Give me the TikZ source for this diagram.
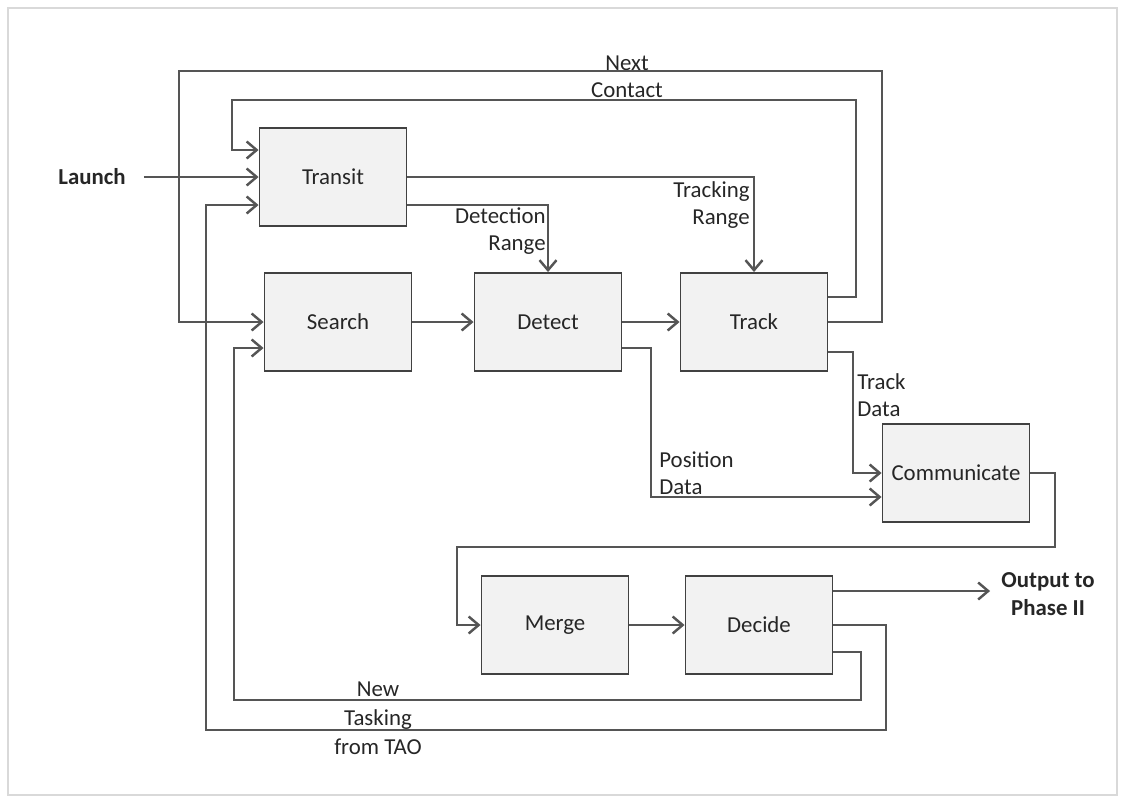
\documentclass[tikz,border=0pt]{standalone}
\usepackage{fontspec}
\setmainfont{Carlito}
\usetikzlibrary{arrows.meta}
\definecolor{boxfill}{RGB}{242,242,242}
\definecolor{boxline}{RGB}{65,65,65}
\definecolor{wireclr}{RGB}{85,85,85}
\tikzset{
  blk/.style={draw=boxline, fill=boxfill, line width=1.1pt, minimum width=2.94cm,
    minimum height=1.96cm, font=\fontsize{13}{15.5}\selectfont, text=black!85},
  lbl/.style={inner sep=0pt, font=\fontsize{13}{15.5}\selectfont, text=black!85},
  wire/.style={draw=wireclr, line width=0.95pt},
  arr/.style={wire, -{Straight Barb[length=2mm,width=3.4mm,line width=1.4pt]}}
}
\begin{document}
\begin{tikzpicture}[x=0.02cm,y=-0.02cm]
    \useasboundingbox (0,0) rectangle (1124,802);
    % 外框
    \draw[black!15, line width=0.8pt] (8,8) rectangle (1117,795);
    % 方框
    \node[blk] (transit) at (333,177) {Transit};
    \node[blk] (search) at (338,322) {Search};
    \node[blk] (detect) at (548,322) {Detect};
    \node[blk] (track) at (754,322) {Track};
    \node[blk] (comm) at (956,473) {Communicate};
    \node[blk] (merge) at (555,625) {Merge};
    \node[blk] (decide) at (759,625) {Decide};
    % 文字
    \node[lbl, font=\fontsize{13}{15.5}\selectfont\bfseries] (launch) at (92,177) {Launch};
    \node[lbl, font=\fontsize{13}{15.5}\selectfont\bfseries, align=center] (out) at (1048,594) {Output to\\Phase II};
    \node[lbl, align=center] (nextc) at (627,77) {Next\\Contact};
    \node[lbl, align=right, anchor=east] (trkrng) at (750,205) {Tracking\\Range};
    \node[lbl, align=right, anchor=east] (detrng) at (546,231) {Detection\\Range};
    \node[lbl, align=left, anchor=west] (posdat) at (659,473) {Position\\Data};
    \node[lbl, align=left, anchor=west] (trkdat) at (857,395) {Track\\Data};
    \node[lbl, align=center] (tasking) at (378,718) {New\\[1pt]Tasking\\[1pt]from TAO};
    % 连线
    \draw[arr] (launch.east) ++(18,0) -- (transit.west);
    \draw[arr] (track.east) -| (882,71) -| (179,322) -- (search.west); % Next Contact
    \draw[arr] (track.east |- 0,297) -| (856,100) -| (232,150) -- (transit.west |- 0,150);
    \draw[arr] (transit.east) -| (track.north); % 跟踪距离
    \draw[arr] (transit.east |- 0,205) -| (detect.north); % 探测距离
    \draw[arr] (search) -- (detect);
    \draw[arr] (detect) -- (track);
    \draw[arr] (detect.east |- 0,348) -- (651,348) |- (comm.west |- 0,497); % 位置数据
    \draw[arr] (track.east |- 0,352) -- (853,352) |- (comm.west); % 跟踪数据
    \draw[arr] (comm.east) -| (1055,547) -| (457,625) -- (merge.west);
    \draw[arr] (merge) -- (decide);
    \draw[arr, shorten >=0.22cm] (decide.east |- 0,591) -- (out.west |- 0,591);
    % New Tasking 回路
    \draw[arr] (decide.east) -| (886,730) -| (206,205) -- (transit.west |- 0,205);
    \draw[arr] (decide.east |- 0,652) -| (861,700) -| (234,348) -- (search.west |- 0,348);
\end{tikzpicture}
\end{document}
